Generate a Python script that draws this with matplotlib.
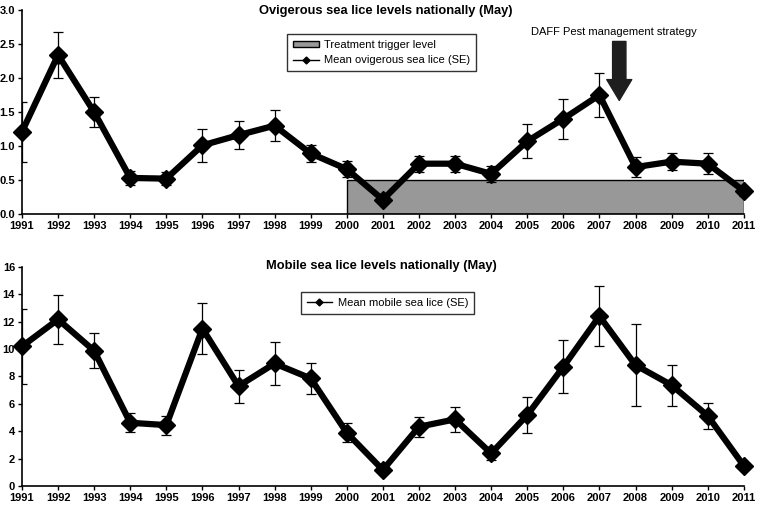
import matplotlib
matplotlib.use("Agg")
import matplotlib.pyplot as plt
from matplotlib.patches import Rectangle
from matplotlib.lines import Line2D

plt.rcParams["font.family"] = ["Liberation Sans", "DejaVu Sans"]

years = list(range(1991, 2012))

# ovigerous lice, mean and SE
ovi_mean = [1.21, 2.34, 1.50, 0.53, 0.52, 1.01, 1.16, 1.30, 0.89, 0.66, 0.21,
            0.74, 0.74, 0.59, 1.07, 1.40, 1.75, 0.69, 0.77, 0.74, 0.34]
ovi_se = [0.44, 0.34, 0.22, 0.10, 0.10, 0.24, 0.21, 0.23, 0.13, 0.12, 0.05,
          0.12, 0.12, 0.12, 0.25, 0.29, 0.32, 0.15, 0.12, 0.15, 0.07]

# mobile lice, mean and SE
mob_mean = [10.2, 12.17, 9.88, 4.62, 4.45, 11.5, 7.30, 8.95, 7.86, 3.89, 1.17,
            4.33, 4.87, 2.38, 5.18, 8.71, 12.41, 8.83, 7.37, 5.13, 1.48]
mob_se = [2.75, 1.8, 1.28, 0.68, 0.70, 1.86, 1.2, 1.55, 1.15, 0.70, 0.15,
          0.73, 0.92, 0.50, 1.30, 1.95, 2.2, 3.0, 1.5, 0.97, 0.2]

trigger_level = 0.5
trigger_start, trigger_end = 2000, 2011

fig = plt.figure(figsize=(7.63, 5.07), dpi=100)
ax1 = fig.add_axes([0.0288, 0.578, 0.946, 0.402])
ax2 = fig.add_axes([0.0288, 0.0414, 0.946, 0.432])


def style(ax, ylim, yticks, fmt):
    ax.set_xlim(1991, 2011)
    ax.set_ylim(*ylim)
    ax.set_xticks(years)
    ax.set_xticklabels([str(y) for y in years], fontweight="bold", fontsize=8)
    ax.set_yticks(yticks)
    ax.set_yticklabels([fmt.format(v) for v in yticks], fontweight="bold", fontsize=8)
    for s in ("top", "right"):
        ax.spines[s].set_visible(False)
    ax.spines["left"].set_linewidth(1.2)
    ax.spines["bottom"].set_linewidth(1.2)
    ax.tick_params(axis="both", direction="out", length=3, width=1, pad=2)


def draw_series(ax, mean, se):
    ax.errorbar(years, mean, yerr=se, fmt="none", ecolor="black", elinewidth=0.9,
                capsize=3.5, capthick=0.9, zorder=3)
    ax.plot(years, mean, color="black", lw=4.5, marker="D", ms=9,
            mfc="black", mec="black", zorder=4, clip_on=False)


def legend(ax, handles, labels, anchor, **kw):
    leg = ax.legend(handles, labels, loc="upper left", bbox_to_anchor=anchor,
                    borderaxespad=0, fontsize=8, frameon=True, fancybox=False,
                    edgecolor="black", borderpad=0.55, handlelength=2.3,
                    handletextpad=0.5, **kw)
    leg.get_frame().set_linewidth(1.0)
    return leg


# ---- top panel ----
style(ax1, (0, 3.0), [0.0, 0.5, 1.0, 1.5, 2.0, 2.5, 3.0], "{:.1f}")
ax1.add_patch(Rectangle((trigger_start, 0), trigger_end - trigger_start, trigger_level,
                        facecolor="#989898", edgecolor="black", lw=1.0, zorder=2))
draw_series(ax1, ovi_mean, ovi_se)
ax1.annotate("", xy=(2007.55, 1.63), xytext=(2007.55, 2.58),
             arrowprops=dict(arrowstyle="simple,head_length=0.75,head_width=0.9,tail_width=0.48",
                             mutation_scale=20, color="#1e1e1e"), zorder=5)
ax1.text(2007.4, 2.68, "DAFF Pest management strategy", ha="center", va="center", fontsize=8)
fig.text(0.505, 0.978, "Ovigerous sea lice levels nationally (May)", ha="center",
         va="center", fontsize=9.3, fontweight="bold")
h1 = [Rectangle((0, 0), 1, 1, facecolor="#989898", edgecolor="black", lw=1.0),
      Line2D([], [], color="black", lw=1.0, marker="D", ms=3.5)]
legend(ax1, h1, ["Treatment trigger level", "Mean ovigerous sea lice (SE)"],
       (0.367, 0.882), labelspacing=0.45, handleheight=0.45)

# ---- bottom panel ----
style(ax2, (0, 16), [0, 2, 4, 6, 8, 10, 12, 14, 16], "{:d}")
draw_series(ax2, mob_mean, mob_se)
fig.text(0.50, 0.475, "Mobile sea lice levels nationally (May)", ha="center",
         va="center", fontsize=9.3, fontweight="bold")
h2 = [Line2D([], [], color="black", lw=1.0, marker="D", ms=3.5)]
legend(ax2, h2, ["Mean mobile sea lice (SE)"], (0.386, 0.886))

fig.savefig("out.png", dpi=100)
